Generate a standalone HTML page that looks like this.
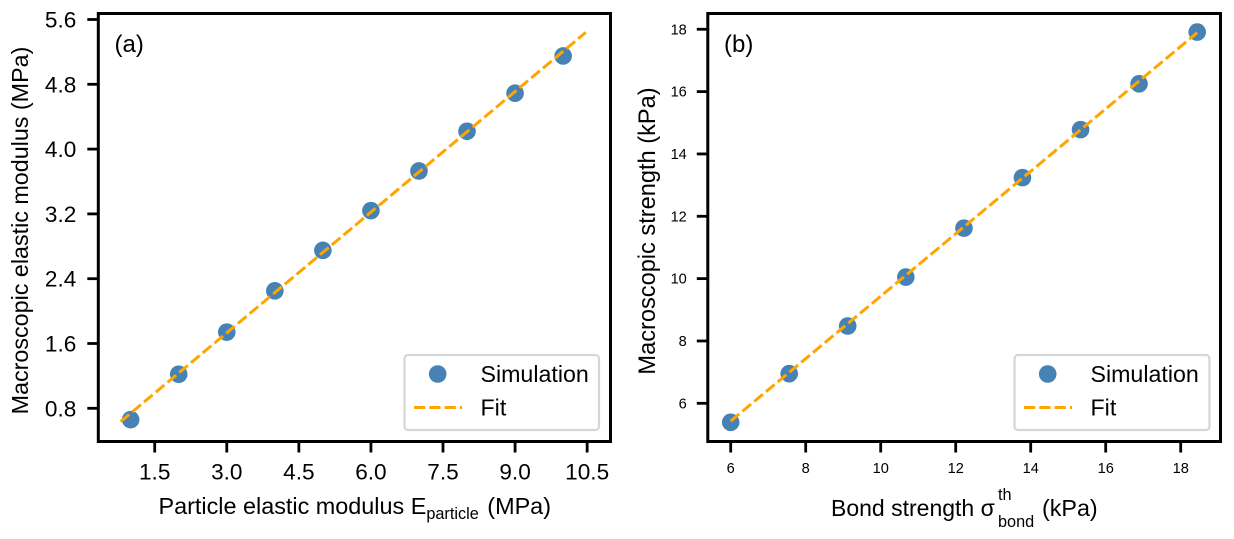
<!DOCTYPE html>
<html lang="en">
<head>
<meta charset="utf-8">
<title>Elastic modulus and strength calibration</title>
<style>
html,body{margin:0;padding:0;background:#fff;width:1234px;height:539px;overflow:hidden}
svg{display:block;font-family:"Liberation Sans",Arial,sans-serif;fill:#000}
</style>
</head>
<body>
<svg id="figure" width="1234" height="539" viewBox="0 0 1234 539" xmlns="http://www.w3.org/2000/svg">
  <g id="panel-a"></g>
  <g id="panel-b"></g>
  <text x="114.5" y="52" font-size="24">(a)</text>
  <text x="724" y="52" font-size="24">(b)</text>
  <text x="158.5" y="514" font-size="23.4">Particle elastic modulus E<tspan dy="5" font-size="16.3">particle</tspan><tspan dy="-5" dx="2"> (MPa)</tspan></text>
  <text transform="translate(28 230.5) rotate(-90)" text-anchor="middle" font-size="23.3">Macroscopic elastic modulus (MPa)</text>
  <text x="831" y="516" font-size="23">Bond strength σ</text>
  <text x="998" y="500" font-size="16.3">th</text>
  <text x="998" y="527" font-size="16.3">bond</text>
  <text x="1042" y="516" font-size="23.3">(kPa)</text>
  <text transform="translate(655 231) rotate(-90)" text-anchor="middle" font-size="23.6">Macroscopic strength (kPa)</text>
</svg>
<script>
const aXValues = [1, 2, 3, 4, 5, 6, 7, 8, 9, 10];
const aYValues = [0.66, 1.22, 1.74, 2.25, 2.75, 3.24, 3.73, 4.22, 4.69, 5.15];
const aFitX = [0.79, 10.47];
const aFitY = [0.635, 5.44];
const aXTickLabels = ['1.5', '3.0', '4.5', '6.0', '7.5', '9.0', '10.5'];
const aYTickLabels = ['0.8', '1.6', '2.4', '3.2', '4.0', '4.8', '5.6'];

const bXValues = [6, 7.56, 9.12, 10.67, 12.22, 13.78, 15.33, 16.89, 18.44];
const bYValues = [5.39, 6.95, 8.48, 10.05, 11.62, 13.24, 14.78, 16.25, 17.91];
const bFitX = [6, 18.44];
const bFitY = [5.43, 17.89];
const bXTickLabels = ['6', '8', '10', '12', '14', '16', '18'];
const bYTickLabels = ['6', '8', '10', '12', '14', '16', '18'];

const legendLabels = ['Simulation', 'Fit'];

const NS = 'http://www.w3.org/2000/svg';
const BLUE = '#4682b4';
const ORANGE = '#ffa500';

function mk(parent, tag, attrs, text) {
  const el = document.createElementNS(NS, tag);
  for (const k in attrs) el.setAttribute(k, attrs[k]);
  if (text !== undefined) el.textContent = text;
  parent.appendChild(el);
  return el;
}

function drawPanel(cfg) {
  const g = document.getElementById(cfg.id);
  const p = cfg.prefix;
  let el;

  cfg.xLabels.forEach(function (label) {
    const x = cfg.sx(parseFloat(label));
    el = mk(g, 'line', {x1: x, x2: x, y1: cfg.bottom, y2: cfg.bottom + 11, stroke: '#000', 'stroke-width': 2.8});
    
    
    el = mk(g, 'text', {x: x, y: cfg.xTickBaseline, 'text-anchor': 'middle', 'font-size': cfg.tickFont}, label);
    
    
  });

  cfg.yLabels.forEach(function (label) {
    const y = cfg.sy(parseFloat(label));
    el = mk(g, 'line', {x1: cfg.left - 11, x2: cfg.left, y1: y, y2: y, stroke: '#000', 'stroke-width': 2.8});
    
    
    el = mk(g, 'text', {x: cfg.left - cfg.yTickGap, y: y + cfg.yTickShift, 'text-anchor': 'end', 'font-size': cfg.tickFont}, label);
    
    
  });

  cfg.xs.forEach(function (v, i) {
    el = mk(g, 'circle', {cx: cfg.sx(v), cy: cfg.sy(cfg.ys[i]), r: 8.8, fill: BLUE});
    
    
  });

  el = mk(g, 'line', {
    x1: cfg.sx(cfg.fitX[0]), y1: cfg.sy(cfg.fitY[0]),
    x2: cfg.sx(cfg.fitX[1]), y2: cfg.sy(cfg.fitY[1]),
    stroke: ORANGE, 'stroke-width': 3, 'stroke-dasharray': '11.2 4.1'
  });
  
  

  el = mk(g, 'rect', {
    x: cfg.left, y: cfg.top, width: cfg.right - cfg.left, height: cfg.bottom - cfg.top,
    fill: 'none', stroke: '#000', 'stroke-width': 3
  });
  
  

  const lx = cfg.legendX;
  el = mk(g, 'rect', {
    x: lx, y: 355, width: cfg.legendW, height: 75, rx: 3.5, ry: 3.5,
    fill: '#fff', 'fill-opacity': 0.8, stroke: '#d6d6d6', 'stroke-width': 2.2
  });
  
  
  el = mk(g, 'circle', {cx: lx + 33.2, cy: 374, r: 8.8, fill: BLUE});
  
  
  el = mk(g, 'line', {x1: lx + 9.5, x2: lx + 57.5, y1: 407.5, y2: 407.5, stroke: ORANGE, 'stroke-width': 3, 'stroke-dasharray': '11.2 4.1'});
  
  
  el = mk(g, 'text', {x: lx + 76, y: 382, 'font-size': 23.2}, legendLabels[0]);
  
  
  el = mk(g, 'text', {x: lx + 76, y: 415.5, 'font-size': 23.2}, legendLabels[1]);
  
  
}

drawPanel({
  id: 'panel-a', prefix: 'panel-a',
  left: 98.3, right: 610.5, top: 13.5, bottom: 441.5,
  sx: function (v) { return 154.7 + (v - 1.5) * 48.05; },
  sy: function (v) { return 408.3 - (v - 0.8) * 81; },
  xs: aXValues, ys: aYValues, fitX: aFitX, fitY: aFitY,
  xLabels: aXTickLabels, yLabels: aYTickLabels,
  tickFont: 22.6, xTickBaseline: 479.5, yTickGap: 22, yTickShift: 8,
  legendX: 404.5, legendW: 194.5
});

drawPanel({
  id: 'panel-b', prefix: 'panel-b',
  left: 707.8, right: 1220.5, top: 13.5, bottom: 441.5,
  sx: function (v) { return 730.7 + (v - 6) * 37.5; },
  sy: function (v) { return 403.3 - (v - 6) * 31.17; },
  xs: bXValues, ys: bYValues, fitX: bFitX, fitY: bFitY,
  xLabels: bXTickLabels, yLabels: bYTickLabels,
  tickFont: 14.6, xTickBaseline: 473, yTickGap: 21, yTickShift: 5,
  legendX: 1014.5, legendW: 195
});
</script>
</body>
</html>
